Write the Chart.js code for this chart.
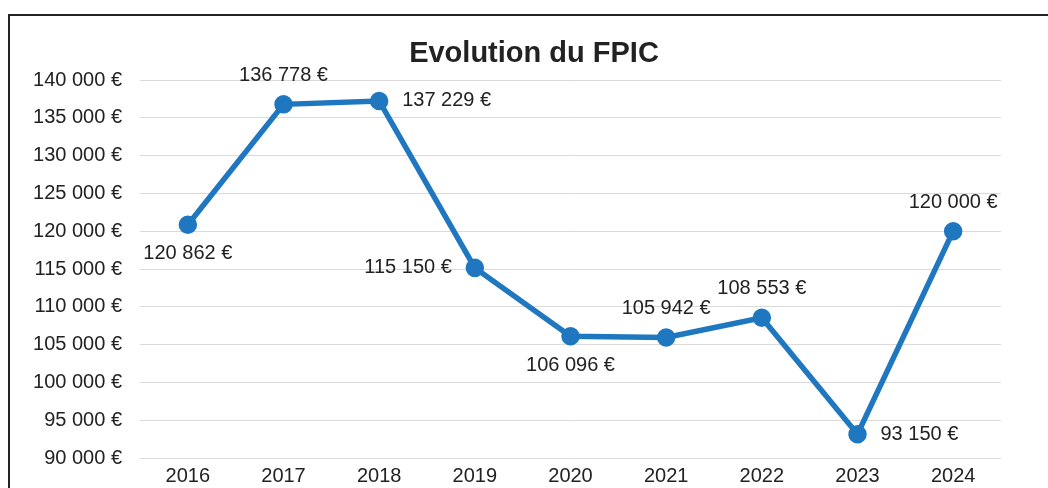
<!DOCTYPE html>
<html>
<head>
<meta charset="utf-8">
<script src="https://cdn.jsdelivr.net/npm/chart.js@4/dist/chart.umd.min.js"></script>
<style>
  html, body { margin: 0; padding: 0; background: #fff; overflow: hidden; }
  body { width: 1048px; height: 488px; position: relative; }
  #frame {
    position: absolute; left: 8px; top: 14px; width: 1060px; height: 490px;
    border: 2px solid #222; box-sizing: border-box;
  }
  #chart { position: absolute; left: 0; top: 0; }
</style>
</head>
<body>
<div id="frame"><canvas id="chart" width="1028" height="482"></canvas></div>
<script>
// FPIC amounts per year (€)
const years = ['2016', '2017', '2018', '2019', '2020', '2021', '2022', '2023', '2024'];
const fpic = [120862, 136778, 137229, 115150, 106096, 105942, 108553, 93150, 120000];
// where each value label sits relative to its point
const labelSide = ['below', 'above', 'right', 'left', 'below', 'above', 'above', 'right', 'above'];

const yMin = 90000;
const yMax = 140000;
const yStep = 5000;

const textColor = '#222';
const lineColor = '#1f77c0';
const fontFamily = '"Liberation Sans", Arial, sans-serif';

const euro = (v) => v.toLocaleString('fr-FR').replace(/[\u202f\u00a0]/g, ' ') + ' €';

// Draws the title and the value labels next to the points
const labelsPlugin = {
    id: 'fpicLabels',
    afterDatasetsDraw(chart) {
        const ctx = chart.ctx;
        ctx.save();
        ctx.fillStyle = textColor;

        ctx.font = 'bold 29px ' + fontFamily;
        ctx.textAlign = 'center';
        ctx.textBaseline = 'alphabetic';
        ctx.fillText('Evolution du FPIC', 524, 46);

        ctx.font = '20px ' + fontFamily;
        ctx.textBaseline = 'middle';
        const points = chart.getDatasetMeta(0).data;
        points.forEach((pt, i) => {
            const text = euro(fpic[i]);
            let x = pt.x, y = pt.y;
            switch (labelSide[i]) {
                case 'above': ctx.textAlign = 'center'; y -= 29; break;
                case 'below': ctx.textAlign = 'center'; y += 29; break;
                case 'right': ctx.textAlign = 'left'; x += 23; break;
                case 'left': ctx.textAlign = 'right'; x -= 23; break;
            }
            ctx.fillText(text, x, y);
        });
        ctx.restore();
    }
};

new Chart(document.getElementById('chart'), {
    type: 'line',
    data: {
        labels: years,
        datasets: [{
            data: fpic,
            borderColor: lineColor,
            backgroundColor: lineColor,
            borderWidth: 5.5,
            pointRadius: 6.5,
            pointHoverRadius: 6.5,
            tension: 0,
            clip: false
        }]
    },
    options: {
        responsive: false,
        animation: false,
        events: [],
        layout: { padding: { top: 64, right: 37, bottom: 0, left: 0 } },
        plugins: {
            legend: { display: false },
            tooltip: { enabled: false },
            title: { display: false }
        },
        scales: {
            x: {
                offset: true,
                grid: { display: false, drawTicks: false },
                border: { display: false },
                ticks: { color: textColor, padding: 6, font: { size: 20, family: fontFamily } },
                afterFit(scale) { scale.height = 40; }
            },
            y: {
                min: yMin,
                max: yMax,
                grid: { color: '#dadada', lineWidth: 1, drawTicks: false },
                border: { display: false },
                ticks: {
                    stepSize: yStep,
                    color: textColor,
                    padding: 18,
                    font: { size: 20, family: fontFamily },
                    callback: (v) => euro(v)
                },
                afterFit(scale) { scale.width = 130; }
            }
        }
    },
    plugins: [labelsPlugin]
});
</script>
</body>
</html>
